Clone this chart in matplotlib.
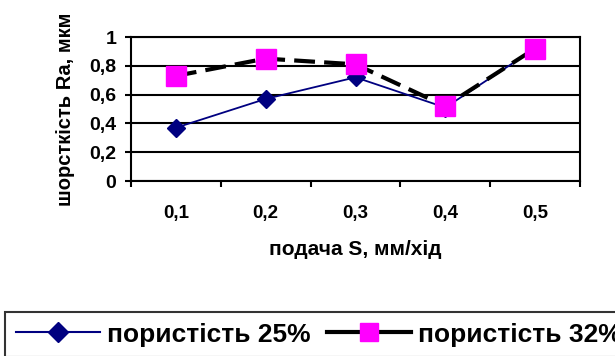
import matplotlib
matplotlib.use('Agg')
import matplotlib.pyplot as plt
from matplotlib.lines import Line2D
from matplotlib.ticker import FixedLocator, NullFormatter

plt.rcParams['font.family'] = ['Liberation Sans', 'DejaVu Sans']
plt.rcParams['font.weight'] = 'bold'

# подача S, мм/хід
feeds = ['0,1', '0,2', '0,3', '0,4', '0,5']
ra_25 = [0.37, 0.57, 0.72, 0.51, 0.92]
ra_32 = [0.73, 0.85, 0.81, 0.52, 0.92]
y_ticks = [0, 0.2, 0.4, 0.6, 0.8, 1.0]
y_labels = ['0', '0,2', '0,4', '0,6', '0,8', '1']
names = ['пористість 25%', 'пористість 32%']

fig = plt.figure(figsize=(6.15, 3.56), dpi=100)
ax = fig.add_axes([131 / 615, 1 - 181 / 356, 449 / 615, 144 / 356])

xs = [i + 0.5 for i in range(len(feeds))]
ax.plot(xs, ra_25, color='#000080', lw=1.3, marker='D', ms=9,
        mfc='#000080', mec='#000080', zorder=3)
ax.plot(xs, ra_32, color='black', lw=3, ls=(0, (5, 2.2)), marker='s', ms=14,
        mfc='#ff00ff', mec='#ff00ff', zorder=4)

ax.set_xlim(0, len(feeds))
ax.set_ylim(0, 1)
ax.set_yticks(y_ticks)
ax.set_yticklabels(y_labels)
ax.yaxis.grid(True, color='black', lw=1.5)
ax.set_axisbelow(True)

ax.xaxis.set_major_locator(FixedLocator(range(len(feeds) + 1)))
ax.xaxis.set_major_formatter(NullFormatter())
ax.xaxis.set_minor_locator(FixedLocator(xs))
ax.set_xticklabels(feeds, minor=True)
ax.tick_params(axis='x', which='minor', length=0, pad=17, labelsize=13.5)
ax.tick_params(axis='x', which='major', length=4.5, width=1.5, direction='out')
ax.tick_params(axis='y', length=4.5, width=1.5, direction='out', labelsize=14, pad=6)

for s in ax.spines.values():
    s.set_linewidth(1.5)

ax.set_xlabel('подача S, мм/хід', fontsize=15, fontweight='bold', labelpad=13)
ax.set_ylabel('шорсткість Ra, мкм', fontsize=14.5, fontweight='bold', labelpad=10)

# legend handles drawn with solid lines, as in the original
handles = [
    Line2D([], [], color='#000080', lw=1.5, marker='D', ms=10, mfc='#000080', mec='#000080'),
    Line2D([], [], color='black', lw=3, marker='s', ms=13.5, mfc='#ff00ff', mec='#ff00ff'),
]
leg = fig.legend(handles, names, loc='upper left',
                 bbox_to_anchor=(5 / 615, 1 - 312 / 356), borderaxespad=0,
                 ncol=2, fontsize=19, handlelength=3.2, handletextpad=0.27,
                 columnspacing=0.6, fancybox=False, edgecolor='black',
                 borderpad=0.4)
leg.get_frame().set_linewidth(1.5)
for t in leg.get_texts():
    t.set_fontweight('bold')

fig.savefig('out.png', dpi=100)
